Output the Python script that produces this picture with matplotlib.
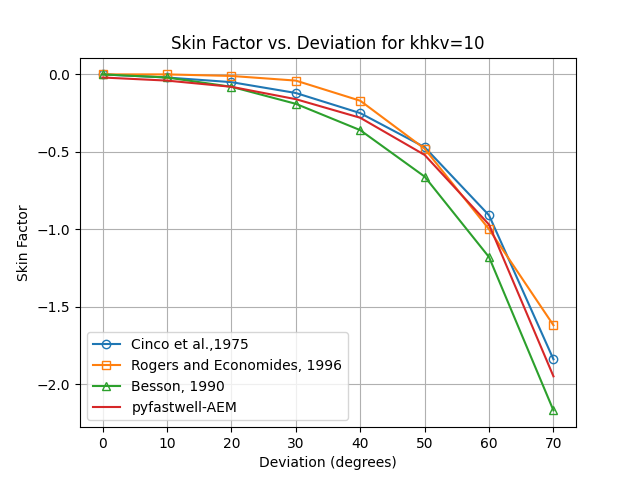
import matplotlib
matplotlib.use("Agg")
import matplotlib.pyplot as plt

deviation = [0, 10, 20, 30, 40, 50, 60, 70]
cinco = [0.0, -0.02, -0.05, -0.12, -0.25, -0.47, -0.91, -1.84]
rogers = [0.0, 0.0, -0.01, -0.04, -0.17, -0.48, -1.00, -1.62]
besson = [0.0, -0.02, -0.08, -0.19, -0.36, -0.66, -1.18, -2.17]
pyfastwell = [-0.02, -0.04, -0.08, -0.16, -0.28, -0.52, -0.97, -1.95]

fig, ax = plt.subplots(figsize=(6.4, 4.8), dpi=100)
ax.plot(deviation, cinco, marker="o", fillstyle="none", label="Cinco et al.,1975")
ax.plot(deviation, rogers, marker="s", fillstyle="none", label="Rogers and Economides, 1996")
ax.plot(deviation, besson, marker="^", fillstyle="none", label="Besson, 1990")
ax.plot(deviation, pyfastwell, label="pyfastwell-AEM")

ax.set_title("Skin Factor vs. Deviation for khkv=10")
ax.set_xlabel("Deviation (degrees)")
ax.set_ylabel("Skin Factor")
ax.grid(True)
ax.legend(loc="lower left")

plt.savefig("out.png")
